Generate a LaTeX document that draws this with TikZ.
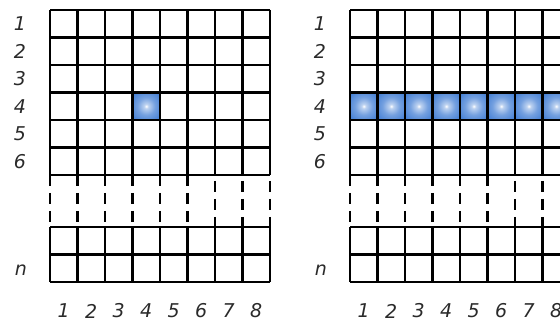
\documentclass[tikz,border=0pt]{standalone}
\usepackage{fontspec}
\setmainfont{DejaVu Sans}
\definecolor{cellblue}{HTML}{1F66CC}
\definecolor{labelgray}{HTML}{2A2A2A}
\pgfdeclareradialshading{glow}{\pgfpoint{0bp}{0bp}}{color(0bp)=(white); color(4bp)=(cellblue!30); color(16bp)=(cellblue!62); color(34bp)=(cellblue!85); color(50bp)=(cellblue); color(60bp)=(cellblue!80!black)}
\tikzset{
	gridline/.style = {line width = 2.7pt, black},
	breakline/.style = {gridline, dash pattern = on 11pt off 7pt},
	lbl/.style = {font = \fontsize{19}{19}\selectfont\itshape, text = labelgray, inner sep = 0pt},
	litcell/.style = {shading = glow}
}
\begin{document}
\begin{tikzpicture}[x = 1pt, y = -1pt]
		\useasboundingbox (0,0) rectangle (560,323);
		\clip (0,0) rectangle (560,323);
		% left grid, one cell lit
		\shade[litcell] (132.5,92.5) rectangle (160,120);
		\foreach \r in {0,...,6} \draw[gridline] (50,{10+27.5*\r}) -- (270,{10+27.5*\r});
		\foreach \r in {0,1,2} \draw[gridline] (50,{227+27.5*\r}) -- (270,{227+27.5*\r});
		\foreach \c in {0,...,8} {
			\draw[gridline] ({50+27.5*\c},10) -- ({50+27.5*\c},175);
			\draw[gridline] ({50+27.5*\c},227) -- ({50+27.5*\c},282);
		}
		\foreach \c in {0,...,5} \draw[breakline] ({50+27.5*\c},175) -- ({50+27.5*\c},227);
		\foreach \c in {6,7,8} \draw[breakline, dash phase = 12pt] ({50+27.5*\c},175) -- ({50+27.5*\c},227);
		\foreach \r in {1,...,6} \node[lbl] (lrow\r) at (20,{23.75+27.5*(\r-1)}) {\r};
		\node[lbl] (lrown) at (21,270) {n};
		\foreach \c in {1,...,8} \node[lbl] (lcol\c) at ({36.25+27.5*\c},311) {\c};
		% right grid, whole row lit
		\foreach \c in {0,...,7} \shade[litcell] ({350+27.5*\c},92.5) rectangle ({377.5+27.5*\c},120);
		\foreach \r in {0,...,6} \draw[gridline] (350,{10+27.5*\r}) -- (570,{10+27.5*\r});
		\foreach \r in {0,1,2} \draw[gridline] (350,{227+27.5*\r}) -- (570,{227+27.5*\r});
		\foreach \c in {0,...,8} {
			\draw[gridline] ({350+27.5*\c},10) -- ({350+27.5*\c},175);
			\draw[gridline] ({350+27.5*\c},227) -- ({350+27.5*\c},282);
		}
		\foreach \c in {0,...,5} \draw[breakline] ({350+27.5*\c},175) -- ({350+27.5*\c},227);
		\foreach \c in {6,7,8} \draw[breakline, dash phase = 12pt] ({350+27.5*\c},175) -- ({350+27.5*\c},227);
		\foreach \r in {1,...,6} \node[lbl] (rrow\r) at (320,{23.75+27.5*(\r-1)}) {\r};
		\node[lbl] (rrown) at (321,270) {n};
		\foreach \c in {1,...,8} \node[lbl] (rcol\c) at ({336.25+27.5*\c},311) {\c};
	\end{tikzpicture}
\end{document}
